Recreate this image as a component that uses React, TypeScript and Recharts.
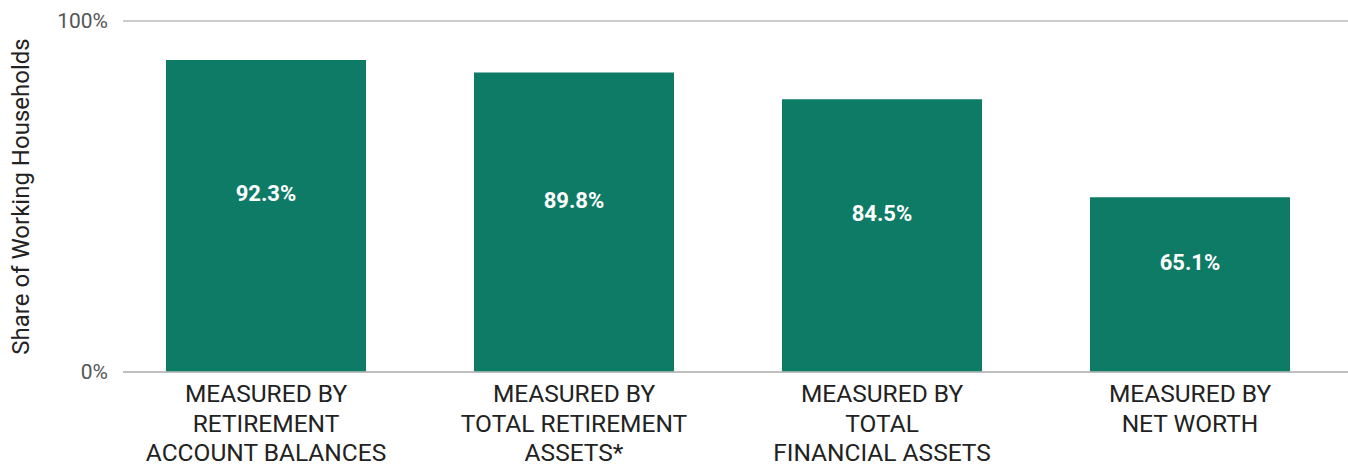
import { BarChart, Bar, XAxis, YAxis, CartesianGrid, LabelList } from "recharts";

const categories = [
  "MEASURED BY|RETIREMENT|ACCOUNT BALANCES",
  "MEASURED BY|TOTAL RETIREMENT|ASSETS*",
  "MEASURED BY|TOTAL|FINANCIAL ASSETS",
  "MEASURED BY|NET WORTH",
];
const shares = [92.3, 89.8, 84.5, 65.1];
const yTicks = [30.5, 100];
const yTickLabels = ["0%", "100%"];

const rows = categories.map((c, i) => ({ cat: c, share: shares[i] }));

const FONT = "Roboto, 'DejaVu Sans', sans-serif";

function CatTick(props: any) {
  const { x, y, payload } = props;
  const lines = String(payload.value).split("|");
  return (
    <text x={x} y={y} textAnchor="middle" fill="#222" fontSize={24.5} fontFamily={FONT}>
      {lines.map((l, i) => (
        <tspan key={i} x={x} dy={i === 0 ? 22 : 29.5}>
          {l}
        </tspan>
      ))}
    </text>
  );
}

function BarValue(props: any) {
  const { x, y, width, height, value } = props;
  return (
    <text
      x={x + width / 2}
      y={y + height / 2 - 22}
      textAnchor="middle"
      dominantBaseline="central"
      fill="#fff"
      fontWeight={700}
      fontSize={22}
      fontFamily={FONT}
    >
      {value.toFixed(1)}%
    </text>
  );
}

export default function App() {
  return (
    <div style={{ position: "absolute", left: 0, top: 0, background: "#fff" }}>
      <BarChart
        width={1348}
        height={466}
        data={rows}
        margin={{ top: 21, right: 0, bottom: 0, left: 0 }}
        barCategoryGap={54}
      >
        <CartesianGrid horizontal vertical={false} stroke="#bbb" strokeWidth={1.5} />
        <XAxis
          dataKey="cat"
          tick={<CatTick />}
          tickLine={false}
          axisLine={{ stroke: "#bbb", strokeWidth: 1.5 }}
          height={94}
          interval={0}
          padding={{ left: -11, right: 4 }}
        />
        <YAxis
          domain={[30.5, 100]}
          ticks={yTicks}
          tickFormatter={(v: number) => yTickLabels[yTicks.indexOf(v)]}
          tick={{ fill: "#555", fontSize: 21, fontFamily: FONT }}
          tickLine={false}
          axisLine={false}
          tickMargin={9}
          width={123}
          label={{
            value: "Share of Working Households",
            angle: -90,
            position: "insideLeft",
            offset: 20,
            style: { textAnchor: "middle", fill: "#222", fontSize: 24, fontFamily: FONT },
          }}
        />
        <Bar dataKey="share" fill="#0d7b65" isAnimationActive={false}>
          <LabelList dataKey="share" content={<BarValue />} />
        </Bar>
      </BarChart>
    </div>
  );
}
